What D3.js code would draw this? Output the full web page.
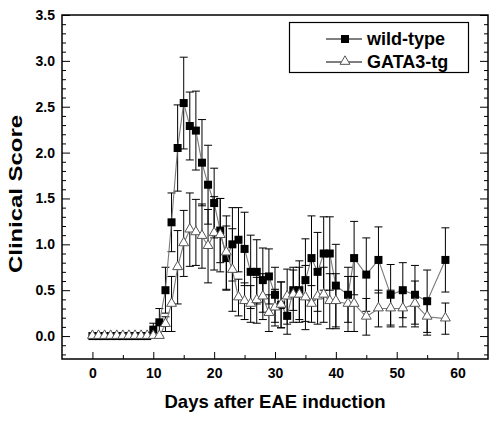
<!DOCTYPE html>
<html>
<head>
<meta charset="utf-8">
<title>Clinical Score</title>
<script src="https://cdnjs.cloudflare.com/ajax/libs/d3/7.8.5/d3.min.js"></script>
<style>
  body { margin: 0; background: #fff; }
  svg { font-family: "Liberation Sans", Arial, sans-serif; font-weight: bold; }
</style>
</head>
<body>
<svg id="chart" width="497" height="421"></svg>
<script>
// days after EAE induction
var days = [0,1,2,3,4,5,6,7,8,9,10,11,12,13,14,15,16,17,18,19,20,21,22,23,24,25,26,27,28,29,30,
            31,32,33,34,35,36,37,38,39,40,42,43,45,47,49,51,53,55,58];

var wtMean = [0,0,0,0,0,0,0,0,0,0,0.07,0.15,0.5,1.24,2.05,2.54,2.29,2.24,1.89,1.65,1.45,
              1.15,0.85,1.0,1.05,0.95,0.7,0.7,0.61,0.65,0.45,0.34,0.22,0.5,0.5,0.61,0.85,0.7,
              0.9,0.9,0.55,0.45,0.85,0.67,0.83,0.45,0.5,0.45,0.38,0.83];
var wtSd = [0,0,0,0,0,0,0,0,0,0,0.07,0.15,0.25,0.32,0.47,0.5,0.37,0.43,0.47,0.43,0.38,
            0.35,0.35,0.4,0.35,0.4,0.4,0.35,0.35,0.3,0.3,0.25,0.2,0.22,0.32,0.45,0.46,0.43,
            0.4,0.4,0.45,0.3,0.4,0.4,0.36,0.33,0.3,0.32,0.34,0.35];

var tgMean = [0,0,0,0,0,0,0,0,0,0,0,0,0.13,0.35,0.75,1.01,1.16,1.13,1.09,0.98,1.12,
              1.1,0.91,0.72,0.42,0.38,0.35,0.39,0.43,0.25,0.31,0.34,0.43,0.45,0.45,0.42,0.35,
              0.43,0.45,0.38,0.38,0.35,0.35,0.21,0.3,0.3,0.3,0.35,0.21,0.19];
var tgSd = [0,0,0,0,0,0,0,0,0,0,0,0,0.08,0.3,0.4,0.36,0.4,0.36,0.35,0.4,0.4,
            0.4,0.4,0.45,0.2,0.2,0.2,0.25,0.25,0.2,0.2,0.25,0.3,0.3,0.3,0.35,0.2,
            0.3,0.3,0.3,0.3,0.3,0.3,0.2,0.2,0.2,0.2,0.25,0.2,0.17];

var xMajor = [0,10,20,30,40,50,60];
var xMinor = [5,15,25,35,45,55];
var yMajor = [0,0.5,1.0,1.5,2.0,2.5,3.0,3.5];
var yMinor = [-0.2,-0.1,0.1,0.2,0.3,0.4,0.6,0.7,0.8,0.9,1.1,1.2,1.3,1.4,1.6,1.7,1.8,1.9,
              2.1,2.2,2.3,2.4,2.6,2.7,2.8,2.9,3.1,3.2,3.3,3.4];

var seriesNames = ["wild-type", "GATA3-tg"];

var margin = {top: 15, right: 9, bottom: 62, left: 62};
var width = 497 - margin.left - margin.right;
var height = 421 - margin.top - margin.bottom;

var svg = d3.select("#chart");
var chart = svg.append("g").attr("transform", "translate(" + margin.left + "," + margin.top + ")");

var x = d3.scaleLinear().domain([-5, 65]).range([0, width]);
var y = d3.scaleLinear().domain([-0.25, 3.5]).range([height, 0]);

// axes, ticks pointing inward
function axisGroup(axis, tx, ty) {
  var g = chart.append("g").attr("transform", "translate(" + tx + "," + ty + ")").call(axis);
  g.select(".domain").remove();
  g.selectAll("line").attr("stroke", "#000");
  return g;
}
var xa = axisGroup(d3.axisBottom(x).tickValues(xMajor).tickSize(-7).tickPadding(9).tickFormat(d3.format("d")), 0, height);
xa.selectAll("text").attr("font-size", 14).attr("fill", "#000");
axisGroup(d3.axisBottom(x).tickValues(xMinor).tickSize(-4).tickFormat(""), 0, height);

var ya = axisGroup(d3.axisLeft(y).tickValues(yMajor).tickSize(-8).tickPadding(7).tickFormat(d3.format(".1f")), 0, 0);
ya.selectAll("text").attr("font-size", 14).attr("fill", "#000");
axisGroup(d3.axisLeft(y).tickValues(yMinor).tickSize(-4).tickFormat(""), 0, 0);
axisGroup(d3.axisRight(y).tickValues(yMajor).tickSize(-8).tickFormat(""), width, 0);
axisGroup(d3.axisRight(y).tickValues(yMinor).tickSize(-4).tickFormat(""), width, 0);

chart.append("rect").attr("width", width).attr("height", height)
  .attr("fill", "none").attr("stroke", "#000").attr("stroke-width", 1.5);

// axis titles
svg.append("text").attr("x", 275).attr("y", 408)
  .attr("text-anchor", "middle").attr("font-size", 18.5).text("Days after EAE induction");
svg.append("text").attr("transform", "translate(22,194) rotate(-90)")
  .attr("text-anchor", "middle").attr("font-size", 18)
  .attr("textLength", 158).attr("lengthAdjust", "spacingAndGlyphs").text("Clinical Score");

function makeRows(means, sds) {
  return days.map(function(d, i) { return {day: d, m: means[i], sd: sds[i]}; });
}
var wt = makeRows(wtMean, wtSd);
var tg = makeRows(tgMean, tgSd);

var line = d3.line().x(function(d) { return x(d.day); }).y(function(d) { return y(d.m); });

function drawSeries(rows, marker) {
  var g = chart.append("g");
  var bars = rows.filter(function(d) { return d.sd > 0; });
  var eb = g.selectAll(".eb").data(bars).enter().append("g").attr("stroke", "#000").attr("stroke-width", 1);
  eb.append("line").attr("x1", function(d) { return x(d.day); }).attr("x2", function(d) { return x(d.day); })
    .attr("y1", function(d) { return y(d.m - d.sd); }).attr("y2", function(d) { return y(d.m + d.sd); });
  eb.append("line").attr("x1", function(d) { return x(d.day) - 4; }).attr("x2", function(d) { return x(d.day) + 4; })
    .attr("y1", function(d) { return y(d.m + d.sd); }).attr("y2", function(d) { return y(d.m + d.sd); });
  eb.append("line").attr("x1", function(d) { return x(d.day) - 4; }).attr("x2", function(d) { return x(d.day) + 4; })
    .attr("y1", function(d) { return y(d.m - d.sd); }).attr("y2", function(d) { return y(d.m - d.sd); });
  g.append("path").datum(rows).attr("d", line).attr("fill", "none").attr("stroke", "#7a7a7a").attr("stroke-width", 1.1);
  marker(g.selectAll(".pt").data(rows).enter());
}

function squares(sel) {
  sel.append("rect").attr("x", function(d) { return x(d.day) - 4; }).attr("y", function(d) { return y(d.m) - 4; })
    .attr("width", 8).attr("height", 8).attr("fill", "#000");
}
var tri = d3.symbol().type(d3.symbolTriangle).size(42);
function triangles(sel) {
  sel.append("path").attr("d", tri)
    .attr("transform", function(d) { return "translate(" + x(d.day) + "," + (y(d.m) - 0.5) + ")"; })
    .attr("fill", "#fff").attr("stroke", "#555").attr("stroke-width", 1);
}

drawSeries(wt, squares);
drawSeries(tg, triangles);

// legend
var lg = svg.append("g");
lg.append("rect").attr("x", 289.5).attr("y", 22.5).attr("width", 179).attr("height", 50)
  .attr("fill", "#fff").attr("stroke", "#000").attr("stroke-width", 1.2);
var legendY = [39, 62];
seriesNames.forEach(function(name, i) {
  lg.append("line").attr("x1", 326).attr("x2", 362).attr("y1", legendY[i]).attr("y2", legendY[i])
    .attr("stroke", "#000").attr("stroke-width", 1);
  if (i === 0) {
    lg.append("rect").attr("x", 341).attr("y", legendY[i] - 4).attr("width", 8).attr("height", 8).attr("fill", "#000");
  } else {
    lg.append("path").attr("d", tri).attr("transform", "translate(345," + (legendY[i] - 0.5) + ")")
      .attr("fill", "#fff").attr("stroke", "#555");
  }
  lg.append("text").attr("x", 367).attr("y", legendY[i] + 6).attr("font-size", 18).text(name);
});
</script>
</body>
</html>
